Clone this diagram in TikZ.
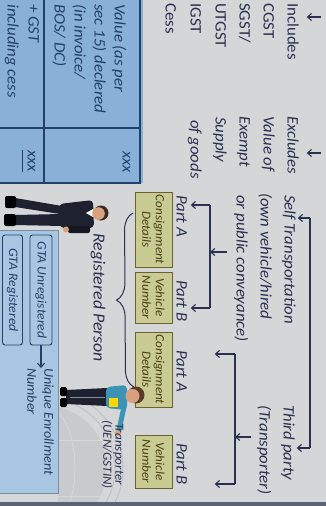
\documentclass[tikz,border=0pt]{standalone}
\usepackage{fontspec}
\setmainfont{Carlito}[FakeStretch=1.05]
\usetikzlibrary{arrows.meta,decorations.pathreplacing,calc}
\definecolor{page}{HTML}{D4D6D8}
\definecolor{ink}{HTML}{2A3150}
\definecolor{tblue}{HTML}{89B1D6}
\definecolor{tline}{HTML}{23406A}
\definecolor{pblue}{HTML}{A8C6E2}
\definecolor{boxfill}{HTML}{C8CC92}
\definecolor{boxedge}{HTML}{6E6032}
\definecolor{boxink}{HTML}{4A3D18}
\definecolor{suit}{HTML}{1E2230}
\definecolor{skin}{HTML}{D9A27E}
\definecolor{hair}{HTML}{3B2A22}
\definecolor{brownhair}{HTML}{5A3A28}
\definecolor{shirt}{HTML}{3C93B5}
\definecolor{wm}{HTML}{BFC3C7}
\definecolor{edgedark}{HTML}{5C6375}
\begin{document}
\begin{tikzpicture}[x=1pt,y=-1pt,
  ptxt/.style={rotate=-90, anchor=west, inner sep=0pt, text height=10pt, text depth=3pt,
    text=ink, font=\fontsize{16}{19}\selectfont},
  pit/.style={ptxt, font=\fontsize{16}{19}\selectfont\itshape},
  ttxt/.style={ptxt, text=tline, font=\fontsize{16}{19}\selectfont\itshape},
  smalltxt/.style={ptxt, text height=8pt, text depth=2.5pt, font=\fontsize{13}{12}\selectfont\itshape},
  partbox/.style={rotate=-90, draw=boxedge, fill=boxfill, line width=1pt, inner sep=1pt,
    minimum height=37pt, align=center, text=boxink,
    font=\fontsize{12.5}{13.5}\selectfont\itshape},
  gtabox/.style={rotate=-90, draw=tline, fill=pblue, line width=0.9pt, rounded corners=2.5pt,
    inner sep=1pt, minimum width=110pt, text=tline, font=\fontsize{13}{14}\selectfont\itshape},
  arr/.style={draw=ink, line width=1.1pt, -{Straight Barb[length=4pt,width=7pt]}},
  bar/.style={draw=ink, line width=1.1pt},
  brc/.style={draw=ink, line width=1pt, decorate, decoration={brace, amplitude=17pt}}
]
\useasboundingbox (0,0) rectangle (326,506);
\fill[page] (0,0) rectangle (326,506);

% faint emblem printed behind the lower part of the page
\begin{scope}
  \clip (58,388) rectangle (150,502);
  \fill[wm!60!page] (45,468) circle (62);
  \draw[wm, line width=1pt] (45,468) circle (70);
  \draw[wm, line width=1pt] (45,468) circle (78);
  \draw[wm!80!black!40, line width=0.8pt] (45,468) ellipse (30 and 62);
  \draw[wm!80!black!40, line width=0.8pt] (-17,440) -- (107,440);
  \draw[wm!80!black!40, line width=0.8pt] (-17,496) -- (107,496);
\end{scope}

% value table
\fill[tblue] (0,0) rectangle (143,183);
\draw[tline, line width=1.2pt] (140,0) -- (140,183) -- (0,183);
\draw[tline, line width=1.2pt] (44,0) -- (44,183);
\draw[tline, line width=1.1pt] (0,128) -- (140,128);
\node[ttxt] (v1) at (118,4) {Value (as per};
\node[ttxt] (v2) at (98,4) {sec 15) declered};
\node[ttxt] (v3) at (78,4) {(in invoice/};
\node[ttxt] (v4) at (58,4) {BOS/ DC)};
\node[ttxt] (g1) at (32,4) {+ GST};
\node[ttxt] (g2) at (11,4) {including cess};
\node[ttxt] (x1) at (126,151) {xxx};
\node[ttxt] (x2) at (31,150) {xxx};
\draw[tline, line width=0.9pt] ([xshift=-1.5pt]x2.south west) -- ([xshift=-1.5pt]x2.south east);

% includes / excludes list
\node[ptxt] (inc) at (291,3) {Includes};
\node[ptxt] (cgst) at (267,3) {CGST};
\node[ptxt] (sgst) at (243,3) {SGST/};
\node[ptxt] (utgst) at (219,3) {UTGST};
\node[ptxt] (igst) at (194,3) {IGST};
\node[ptxt] (cess) at (169,3) {Cess};
\node[pit] (exc) at (291,116) {Excludes};
\node[pit] (valof) at (267,116) {Value of};
\node[pit] (exempt) at (243,116) {Exempt};
\node[pit] (supply) at (219,117) {Supply};
\node[pit] (goods) at (194,120) {of goods};
\coordinate (incin) at (321,17);
\coordinate (excin) at (321,153);
\draw[arr, shorten >=9pt] (incin) -- (incin -| inc.north);
\draw[arr, shorten >=9pt] (excin) -- (excin -| exc.north);

% modes of transport
\node[pit] (selft) at (288,195) {Self Transportation};
\node[pit] (ownv) at (264,193) {(own vehicle/hired};
\node[pit] (pubc) at (240,195) {or public conveyance)};
\node[pit] (third) at (287,405) {Third party};
\node[pit] (transp) at (263,405) {(Transporter)};
\coordinate (bigT) at (310,218);
\coordinate (bigB) at (310,448);
\draw[bar] (bigT) -- (bigB);
\draw[arr, shorten >=3pt] (bigT) -- (bigT -| selft.north);
\draw[arr, shorten >=3pt] (bigB) -- (bigB -| third.north);

% e-way bill parts
\node[pit] (pa1) at (180,195) {Part A};
\node[pit] (pb1) at (180,280) {Part B};
\node[pit] (pa2) at (180,350) {Part A};
\node[pit] (pb2) at (180,443) {Part B};
\coordinate (sT) at (210,205);
\coordinate (sB) at (210,308);
\coordinate (sM) at (210,252);
\draw[bar] (sT) -- (sB);
\draw[arr, shorten >=4pt] (sT) -- (sT -| pa1.north);
\draw[arr, shorten >=4pt] (sB) -- (sB -| pb1.north);
\draw[arr, shorten <=6pt] (pubc.south |- sM) -- (sM);
\coordinate (tT) at (235,354);
\coordinate (tB) at (235,484);
\coordinate (tM) at (235,437);
\draw[bar] (tT) -- (tB);
\draw[arr, shorten >=28pt] (tT) -- (tT -| pa2.north);
\draw[arr, shorten >=28pt] (tB) -- (tB -| pb2.north);
\draw[arr, shorten <=5pt] (transp.south |- tM) -- (tM);

\node[partbox, minimum width=75pt] (cd1) at (153.5,229.5) {Consignment\\Details};
\node[partbox, minimum width=51pt] (vn1) at (153.5,297.5) {Vehicle\\Number};
\node[partbox, minimum width=75pt] (cd2) at (153.5,369.5) {Consignment\\Details};
\node[partbox, minimum width=53pt] (vn2) at (153.5,461.5) {Vehicle\\Number};

% registered person brace
\coordinate (brB) at (134,387);
\coordinate (brT) at (133,213);
\draw[brc] (brB) -- (brT);
\node[ptxt, font=\fontsize{17}{19}\selectfont\itshape] (regp) at (97,233) {Registered Person};

% businessman
\fill[suit] (62,206) -- (60,214) -- (15,207) -- (15,198) -- cycle;
\fill[suit] (61,214) -- (62,226) -- (15,225) -- (16,215) -- cycle;
\fill[black, rounded corners=2pt] (5,196) rectangle (16,208);
\fill[black, rounded corners=2pt] (4,214) rectangle (16,226);
\fill[suit, rounded corners=4pt] (93,200) -- (94,228) -- (60,228) -- (59,204) -- cycle;
\fill[white] (93,209) -- (86,213) -- (93,217) -- cycle;
\fill[suit!70!black, rounded corners=2pt] (90,226) rectangle (68,233);
\fill[skin] (66,229.5) circle (3);
\fill[hair] (101,213) circle (7.5);
\fill[skin] (98.5,213.5) circle (6.3);

% transporter
\fill[suit] (107,388) -- (107,406) -- (66,404) -- (66,390) -- cycle;
\draw[page!60!suit, line width=0.6pt] (105,397) -- (70,397);
\fill[black, rounded corners=1.5pt] (60,387) rectangle (67,396);
\fill[black, rounded corners=1.5pt] (60,398) rectangle (67,407);
\fill[shirt, rounded corners=4pt] (127,385) -- (127,410) -- (106,408) -- (106,387) -- cycle;
\draw[shirt, line width=5pt, line cap=round] (124,407) -- (119,430);
\fill[skin] (118,433) circle (3);
\fill[yellow!75!orange] (109,398) rectangle (118,407);
\fill[brownhair] (136,395) circle (8.5);
\fill[skin] (132.5,396) circle (7);
\node[smalltxt, font=\fontsize{12.5}{12}\selectfont\itshape] (tr1) at (118,423) {Transporter};
\node[smalltxt, font=\fontsize{12.5}{12}\selectfont\itshape] (tr2) at (106,420) {(UEN/GSTIN)};

% GTA panel
\fill[pblue] (0,230) rectangle (58,493);
\draw[tline!60, line width=0.6pt] (0,230) -- (58,230) -- (58,493) -- (0,493);
\node[gtabox, minimum height=22pt] (gtau) at (41,290) {GTA Unregistered};
\node[gtabox, minimum height=20pt] (gtar) at (12.5,290) {GTA Registered};
\node[smalltxt, text=tline, font=\fontsize{13.5}{14}\selectfont\itshape] (ue1) at (47,368) {Unique Enrollment};
\node[smalltxt, text=tline, font=\fontsize{13.5}{14}\selectfont\itshape] (ue2) at (30,368) {Number};
\draw[arr, draw=tline] (gtau.east) -- (gtau.east |- ue1.west);

% darker edge of the sheet
\fill[edgedark] (0,502) rectangle (326,506);
\end{tikzpicture}
\end{document}
